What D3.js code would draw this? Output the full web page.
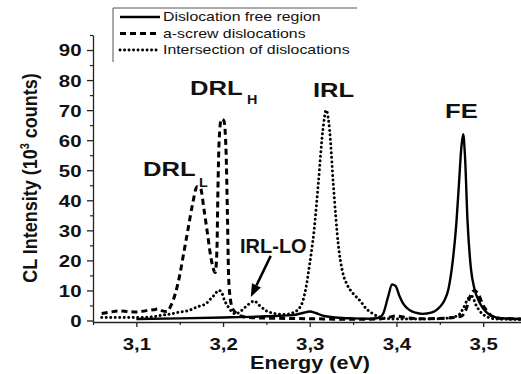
<!DOCTYPE html>
<html>
<head>
<meta charset="utf-8">
<script src="https://cdn.jsdelivr.net/npm/d3@7"></script>
<style>
  body { margin: 0; background: #fff; }
  svg { display: block; }
  text { font-family: "Liberation Sans", Arial, Helvetica, sans-serif; fill: #111; }
</style>
</head>
<body>
<svg id="chart" width="521" height="374"></svg>
<script>
// Axis ticks
const xTicks = [3.1, 3.2, 3.3, 3.4, 3.5];
const xTickLabels = ["3,1", "3,2", "3,3", "3,4", "3,5"];
const xMinorTicks = [3.05, 3.15, 3.25, 3.35, 3.45, 3.55];
const yTicks = [0, 10, 20, 30, 40, 50, 60, 70, 80, 90];
const yMinorTicks = [5, 15, 25, 35, 45, 55, 65, 75, 85, 95];

const seriesNames = ["Dislocation free region", "a-screw dislocations", "Intersection of dislocations"];

// Dislocation free region (solid)
const freeEnergy = [3.10, 3.15, 3.20, 3.25, 3.28, 3.292, 3.300, 3.307, 3.315, 3.33, 3.35, 3.37, 3.38, 3.385, 3.39, 3.395, 3.399,
  3.403, 3.408, 3.415, 3.422, 3.43, 3.44, 3.45, 3.455, 3.46, 3.465, 3.469, 3.472, 3.475, 3.477, 3.479, 3.482, 3.486, 3.49,
  3.495, 3.50, 3.51, 3.52, 3.55];
const freeIntensity = [0.5, 0.7, 1.0, 1.4, 1.8, 2.5, 3.0, 2.5, 1.6, 1.0, 0.7, 0.6, 0.9, 2.5, 7.5, 12.0, 11.5,
  8.5, 5.5, 3.5, 2.6, 2.2, 2.6, 4.5, 6.5, 10.5, 20, 32, 45, 58, 62, 55, 33, 17, 10.5,
  6.5, 4.0, 1.5, 0.8, 0.5];

// a-screw dislocations (dashed)
const screwEnergy = [3.06, 3.07, 3.08, 3.09, 3.10, 3.11, 3.12, 3.125, 3.13, 3.135, 3.14, 3.145, 3.15, 3.155, 3.16, 3.165,
  3.17, 3.174, 3.178, 3.182, 3.186, 3.191, 3.193, 3.194, 3.1955, 3.198, 3.201, 3.2035, 3.205, 3.2065, 3.2085, 3.211,
  3.215, 3.22, 3.23, 3.25, 3.30, 3.35, 3.38, 3.39, 3.40, 3.41, 3.43, 3.46, 3.475, 3.48, 3.485, 3.49, 3.495, 3.50, 3.505,
  3.51, 3.52, 3.55];
const screwIntensity = [2.3, 2.8, 3.2, 3.0, 2.8, 3.2, 3.6, 3.8, 3.2, 3.0, 5.0, 9.0, 15, 23, 31, 39,
  44.5, 44, 37, 29, 21, 16, 24, 42, 60, 67, 66.5, 56, 36, 14, 7, 4,
  2.5, 1.5, 1.0, 0.8, 0.6, 0.4, 0.5, 1.0, 1.5, 1.0, 0.6, 0.8, 1.5, 3.5, 8, 10, 8.5, 5, 3,
  1.5, 0.7, 0.5];

// Intersection of dislocations (dotted)
const crossEnergy = [3.06, 3.08, 3.10, 3.12, 3.13, 3.14, 3.15, 3.16, 3.17, 3.175, 3.18, 3.185, 3.19, 3.195, 3.198, 3.202,
  3.206, 3.21, 3.214, 3.22, 3.225, 3.23, 3.236, 3.242, 3.25, 3.26, 3.27, 3.28, 3.29, 3.295, 3.30, 3.305, 3.31, 3.315,
  3.319, 3.323, 3.327, 3.333, 3.338, 3.343, 3.35, 3.358, 3.365, 3.373, 3.38, 3.39, 3.40, 3.42, 3.45, 3.47, 3.477, 3.482,
  3.487, 3.492, 3.498, 3.505, 3.515, 3.55];
const crossIntensity = [1.0, 1.0, 1.0, 1.3, 1.8, 2.2, 2.8, 3.3, 4.5, 5, 5.5, 7, 8.5, 10, 9.5, 6.5,
  4.5, 3, 2.2, 3.0, 4.3, 5.5, 6.5, 5, 3.2, 2.3, 2.0, 2.5, 5, 10, 19, 30, 46, 63,
  70, 63, 46, 25, 16, 12, 9, 6.6, 4, 2.2, 1.2, 0.6, 0.5, 0.5, 0.6, 1.5, 4, 7,
  8, 5, 2.5, 1.2, 0.5, 0.3];

const svg = d3.select("#chart");
const plot = { left: 93, top: 35, bottom: 322, right: 521 };

const x = d3.scaleLinear().domain([3.05, 3.55]).range([93, 526.5]);
const y = d3.scaleLinear().domain([-0.5, 95]).range([322, 35]);

// Horizontally widened text helper
function label(parent, px, py, txt, size, sx, opts = {}) {
  const t = parent.append("text")
    .attr("transform", `translate(${px},${py}) scale(${sx},1)`)
    .attr("font-size", size)
    .attr("font-weight", opts.weight || "bold")
    .attr("text-anchor", opts.anchor || "start");
  if (opts.spacing) t.attr("letter-spacing", opts.spacing);
  return t.text(txt);
}

svg.append("defs").append("clipPath").attr("id", "plotClip")
  .append("rect").attr("x", plot.left).attr("y", plot.top - 5)
  .attr("width", plot.right - plot.left).attr("height", plot.bottom - plot.top + 5);

// Axes
const xAxis = svg.append("g").attr("transform", `translate(0,${plot.bottom})`)
  .call(d3.axisBottom(x).tickValues(xTicks).tickFormat((d, i) => xTickLabels[i]).tickSize(5).tickSizeOuter(0));
xAxis.select(".domain").attr("stroke", "#222").attr("stroke-width", 1.3);
xAxis.selectAll(".tick line").attr("stroke", "#222").attr("stroke-width", 1.3);
xAxis.selectAll(".tick text")
  .attr("y", 0).attr("dy", 0)
  .attr("transform", "translate(0,28) scale(1.2,1)")
  .attr("font-size", 17).attr("font-weight", "bold").attr("fill", "#111")
  .attr("font-family", '"Liberation Sans", Arial, sans-serif');
svg.append("g").attr("transform", `translate(0,${plot.bottom})`)
  .call(d3.axisBottom(x).tickValues(xMinorTicks).tickFormat("").tickSize(3).tickSizeOuter(0))
  .call(g => g.select(".domain").remove())
  .selectAll(".tick line").attr("stroke", "#222").attr("stroke-width", 1.2);

const yAxis = svg.append("g").attr("transform", `translate(${plot.left},0)`)
  .call(d3.axisLeft(y).tickValues(yTicks).tickSize(6).tickSizeOuter(0));
yAxis.select(".domain").attr("stroke", "#222").attr("stroke-width", 1.3);
yAxis.selectAll(".tick line").attr("stroke", "#222").attr("stroke-width", 1.3);
yAxis.selectAll(".tick text")
  .attr("x", 0).attr("dy", "0.35em")
  .attr("transform", "translate(-11.5,0) scale(1.2,1)")
  .attr("font-size", 17).attr("font-weight", "bold").attr("fill", "#111")
  .attr("font-family", '"Liberation Sans", Arial, sans-serif');
svg.append("g").attr("transform", `translate(${plot.left},0)`)
  .call(d3.axisLeft(y).tickValues(yMinorTicks).tickFormat("").tickSize(3).tickSizeOuter(0))
  .call(g => g.select(".domain").remove())
  .selectAll(".tick line").attr("stroke", "#222").attr("stroke-width", 1.2);

// Axis titles
label(svg, 310, 369, "Energy (eV)", 18, 1.2, { anchor: "middle" });
const yTitle = svg.append("text")
  .attr("transform", "translate(37,178) scale(1.15,1) rotate(-90)")
  .attr("font-size", 18).attr("font-weight", "bold").attr("text-anchor", "middle");
yTitle.append("tspan").text("CL Intensity (10");
yTitle.append("tspan").attr("font-size", 11).attr("dy", -7).text("3");
yTitle.append("tspan").attr("dy", 7).text(" counts)");

// Spectra
const line = d3.line().x(d => x(d[0])).y(d => y(d[1])).curve(d3.curveMonotoneX);
const zip = (a, b) => a.map((e, i) => [e, b[i]]);

const styles = [
  { dash: null, width: 2.4, cap: "butt" },
  { dash: "6,4", width: 3, cap: "butt" },
  { dash: "0.1,4.4", width: 2.9, cap: "round" }
];
const seriesData = [zip(freeEnergy, freeIntensity), zip(screwEnergy, screwIntensity), zip(crossEnergy, crossIntensity)];

const spectra = svg.append("g").attr("clip-path", "url(#plotClip)");
seriesData.forEach((d, i) => {
  const p = spectra.append("path").datum(d)
    .attr("d", line).attr("fill", "none").attr("stroke", "#000")
    .attr("stroke-width", styles[i].width).attr("stroke-linecap", styles[i].cap)
    .attr("stroke-linejoin", "round");
  if (styles[i].dash) p.attr("stroke-dasharray", styles[i].dash);
});

// Peak labels
const ann = svg.append("g");
label(ann, 143, 176, "DRL", 21, 1.22);
label(ann, 199, 187, "L", 12, 1.2);
label(ann, 190, 95, "DRL", 21, 1.22);
label(ann, 247, 104, "H", 12, 1.2);
label(ann, 313, 97, "IRL", 21, 1.22);
label(ann, 445, 118, "FE", 21, 1.22);
label(ann, 240, 253, "IRL-LO", 20, 1.0);

// Arrow towards the IRL-LO shoulder
const tail = [x(3.255), y(21.5)], tip = [x(3.232), y(7.8)];
const ang = Math.atan2(tip[1] - tail[1], tip[0] - tail[0]);
const headLen = 13, headW = 5;
const base = [tip[0] - headLen * Math.cos(ang), tip[1] - headLen * Math.sin(ang)];
ann.append("line").attr("x1", tail[0]).attr("y1", tail[1]).attr("x2", base[0]).attr("y2", base[1])
  .attr("stroke", "#000").attr("stroke-width", 2.5);
ann.append("path")
  .attr("d", `M${tip[0]},${tip[1]} L${base[0] + headW * Math.sin(ang)},${base[1] - headW * Math.cos(ang)} L${base[0] - headW * Math.sin(ang)},${base[1] + headW * Math.cos(ang)} Z`)
  .attr("fill", "#000");

// Legend
const legend = svg.append("g");
legend.append("path").attr("d", "M113,62 L113,8 L357,8").attr("fill", "none").attr("stroke", "#555").attr("stroke-width", 1);
seriesNames.forEach((name, i) => {
  const ly = 17 + i * 16.5;
  const l = legend.append("line").attr("x1", 120).attr("x2", 160).attr("y1", ly).attr("y2", ly)
    .attr("stroke", "#000").attr("stroke-width", styles[i].width).attr("stroke-linecap", styles[i].cap);
  if (styles[i].dash) l.attr("stroke-dasharray", styles[i].dash);
  label(legend, 163, ly + 4, name, 12, 1.32, { weight: "normal" });
});
</script>
</body>
</html>
